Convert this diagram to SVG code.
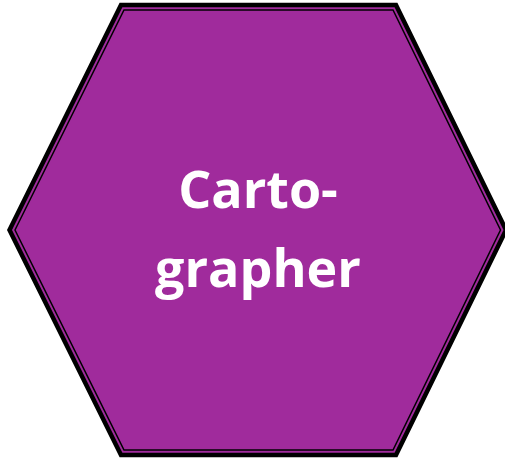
<svg xmlns="http://www.w3.org/2000/svg" width="505" height="459" viewBox="0 0 505 459">
  <style>
    .hex { fill: #A02B9C; stroke: #000; stroke-width: 4.5; stroke-linejoin: miter; }
    .inner { fill: none; stroke: #000; stroke-width: 1.5; }
    .lbl { font-family: "Open Sans", Lato, "Liberation Sans", sans-serif; font-weight: bold; font-size: 52px; fill: #fff; text-anchor: middle; }
  </style>
  <rect width="505" height="459" fill="#fff"/>
  <g id="cartographer">
    <polygon class="hex" points="9.5,230 121,5 396,5 506,230 396,455 121,455"/>
    <polygon class="inner" points="15,230 124,10 393,10 500.5,230 393,450 124,450"/>
    <text class="lbl" x="258" y="208">Carto-</text>
    <text class="lbl" x="258" y="287">grapher</text>
  </g>
</svg>
